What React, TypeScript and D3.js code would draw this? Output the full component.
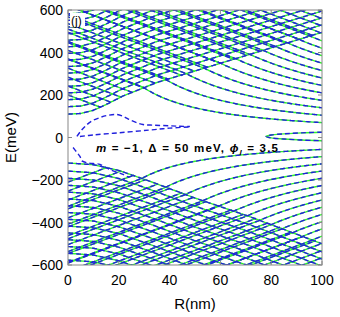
import React from 'react';
import * as d3 from 'd3';

const W = 340, H = 317;
const M = { l: 68, r: 18, t: 10, b: 52 };
const xTicks = [0, 20, 40, 60, 80, 100];
const yTicks = [-600, -400, -200, 0, 200, 400, 600];

// descending (confinement-like) levels, energy read at R = 100 nm
const descUpperAt100 = [70, 105, 140, 175, 210, 245, 280, 315, 350, 385, 420, 455, 490, 525, 560, 595];
const descLowerAt100 = [-56, -90, -124, -158, -192, -226, -260, -294, -328, -362, -396, -430, -464, -498, -532, -566];
// rising levels, energy read at R = 0
const riseUpperAt0 = [110, 145, 178, 210, 241, 272, 303, 334, 365, 396, 427, 458, 489, 520, 551, 582];
const riseLowerAt0 = [-120, -158, -192, -225, -257, -289, -321, -353, -385, -417, -449, -481, -513, -545, -577];
// rise offset: [R, offset]
const riseUpperShape: [number, number][] = [[0, 0], [5, 3], [10, 18], [15, 45], [21.6, 85], [35, 149], [48, 196], [61, 243], [74, 290], [100, 385]];
const riseLowerShape: [number, number][] = [[0, 0], [10, 8], [20, 35], [32, 85], [50, 165], [71, 250], [100, 380]];
// crossing (mesh) levels, energy read at R = 0, slope
const meshUpperAt0 = [200, 242, 284, 326, 368, 410, 452, 494, 536, 578, 620, 662, 704, 746, 788, 830, 872, 914];
const meshLowerAt0 = [-210, -252, -294, -336, -378, -420, -462, -504, -546, -588, -630, -672, -714, -756, -798, -840, -882, -924];
const meshSlope = 4.5;
// loop near zero energy: [R, E] points
const loopPts: [number, number][] = [[100, 25], [92, 22], [85, 17], [80, 12], [78, 5], [80, -2], [85, -7], [92, -12], [100, -15]];
// isolated dashed curves near the gap
const gapCurveA: [number, number][] = [[3.5, 5], [5, 30], [6.7, 52], [9, 75], [12.6, 94], [16, 105], [19.3, 108], [22, 98], [24, 85], [27, 70], [29.5, 61], [34, 58], [40, 55], [44, 53], [48, 52]];
const gapCurveB: [number, number][] = [[4.7, 5], [10, 12], [20, 22], [32, 35], [40, 44], [48, 50]];
const gapCurveC: [number, number][] = [[2, -47], [3.5, -70], [4.7, -89], [5.5, -110], [8, -120], [12.6, -127], [16.5, -151], [21.7, -174], [24, -188]];

const Rs = d3.range(0, 100.01, 0.5);

export default function App() {
  const x = d3.scaleLinear().domain([0, 100]).range([M.l, W - M.r]);
  const y = d3.scaleLinear().domain([-600, 600]).range([H - M.b, M.t]);
  const line = d3.line<[number, number]>().x(d => x(d[0])).y(d => y(d[1]));
  const curve = d3.line<[number, number]>().x(d => x(d[0])).y(d => y(d[1])).curve(d3.curveCatmullRom);
  const smooth = d3.line<[number, number]>().x(d => x(d[0])).y(d => y(d[1])).curve(d3.curveBasis);

  const shU = d3.scaleLinear().domain(riseUpperShape.map(d => d[0])).range(riseUpperShape.map(d => d[1]));
  const shL = d3.scaleLinear().domain(riseLowerShape.map(d => d[0])).range(riseLowerShape.map(d => d[1]));
  const boundU = (R: number) => riseUpperAt0[0] + shU(R);
  const boundL = (R: number) => riseLowerAt0[0] - shL(R);

  const straight: [number, number][][] = [];
  const smoothC: [number, number][][] = [];
  // descending levels: 1/R below the mesh, continued with the mesh slope inside it
  const desc = (e: number, sign: number) => {
    const bound = sign > 0 ? boundU : boundL;
    let rStar = 0, eStar = 0;
    for (let i = Rs.length - 1; i >= 1; i--) {
      const R = Rs[i];
      const E = e * 100 / R;
      if (sign * E >= sign * bound(R)) { rStar = R; eStar = E; break; }
    }
    return Rs.map(R => {
      if (R > rStar || rStar === 0) return [R, R === 0 ? sign * 900 : e * 100 / R] as [number, number];
      return [R, eStar + sign * meshSlope * (rStar - R)] as [number, number];
    });
  };
  descUpperAt100.forEach(e => straight.push(desc(e, 1)));
  descLowerAt100.forEach(e => straight.push(desc(e, -1)));
  riseUpperAt0.forEach(a => smoothC.push(Rs.map(R => [R, a + shU(R)] as [number, number])));
  riseLowerAt0.forEach(a => smoothC.push(Rs.map(R => [R, a - shL(R)] as [number, number])));
  meshUpperAt0.forEach(b => {
    const pts = Rs.map(R => [R, b - meshSlope * R] as [number, number]).filter(d => d[1] > boundU(d[0]) - 4);
    if (pts.length > 1) straight.push(pts);
  });
  meshLowerAt0.forEach(b => {
    const pts = Rs.map(R => [R, b + meshSlope * R] as [number, number]).filter(d => d[1] < boundL(d[0]) + 4);
    if (pts.length > 1) straight.push(pts);
  });

  const green = '#30f030', blue = '#2020dd';
  const plotW = W - M.l - M.r, plotH = H - M.t - M.b;
  return (
    <svg width={W} height={H} style={{ position: 'fixed', left: 0, top: 0, background: '#fff' }}
      fontFamily="'Liberation Sans', Arial, sans-serif">
      <defs>
        <clipPath id="plot"><rect x={M.l} y={M.t} width={plotW} height={plotH} /></clipPath>
      </defs>
      <g clipPath="url(#plot)">
        {straight.map((c, i) => <path key={'g' + i} d={line(c) || ''} fill="none" stroke={green} strokeWidth={1.4} />)}
        {smoothC.map((c, i) => <path key={'gs' + i} d={smooth(c) || ''} fill="none" stroke={green} strokeWidth={1.4} />)}
        <path d={curve(loopPts) || ''} fill="none" stroke={green} strokeWidth={1.4} />
        {straight.map((c, i) => <path key={'b' + i} d={line(c) || ''} fill="none" stroke={blue} strokeWidth={1.4} strokeDasharray="5,3" />)}
        {smoothC.map((c, i) => <path key={'bs' + i} d={smooth(c) || ''} fill="none" stroke={blue} strokeWidth={1.4} strokeDasharray="5,3" />)}
        <path d={curve(loopPts) || ''} fill="none" stroke={blue} strokeWidth={1.4} strokeDasharray="5,3" />
        {[gapCurveA, gapCurveB, gapCurveC].map((c, i) => <path key={'s' + i} d={curve(c) || ''} fill="none" stroke={blue} strokeWidth={1.4} strokeDasharray="5,3" />)}
      </g>
      <rect x={M.l} y={M.t} width={plotW} height={plotH} fill="none" stroke="#888" strokeWidth={1} />
      {xTicks.map(t => (
        <g key={'x' + t}>
          <line x1={x(t)} x2={x(t)} y1={H - M.b} y2={H - M.b - 4} stroke="#888" />
          <line x1={x(t)} x2={x(t)} y1={M.t} y2={M.t + 4} stroke="#888" />
          <text x={x(t)} y={H - M.b + 20} textAnchor="middle" fontSize={14}>{t}</text>
        </g>
      ))}
      {yTicks.map(t => (
        <g key={'y' + t}>
          <line x1={M.l} x2={M.l + 4} y1={y(t)} y2={y(t)} stroke="#888" />
          <line x1={W - M.r} x2={W - M.r - 4} y1={y(t)} y2={y(t)} stroke="#888" />
          <text x={M.l - 5} y={y(t) + 5} textAnchor="end" fontSize={14}>{t === 0 ? '0' : (t < 0 ? '\u2212' + Math.abs(t) : String(t))}</text>
        </g>
      ))}
      <text x={(M.l + W - M.r) / 2} y={H - 8} textAnchor="middle" fontSize={15}>R(nm)</text>
      <text transform={`translate(16,${(M.t + H - M.b) / 2}) rotate(-90)`} textAnchor="middle" fontSize={15}>E(meV)</text>
      <rect x={M.l + 2} y={M.t + 3} width={15} height={14} fill="#fff" />
      <text x={M.l + 3} y={M.t + 15} fontSize={12}>(j)</text>
      <text x={96} y={152} fontSize={11.5} fontWeight="bold" textLength={182} lengthAdjust="spacing">
        <tspan fontStyle="italic">m</tspan> = −1,  Δ = 50 meV,  <tspan fontStyle="italic">ϕ</tspan><tspan fontStyle="italic" fontSize={8} dy={3}>l</tspan><tspan dy={-3}> = 3.5</tspan>
      </text>
    </svg>
  );
}
